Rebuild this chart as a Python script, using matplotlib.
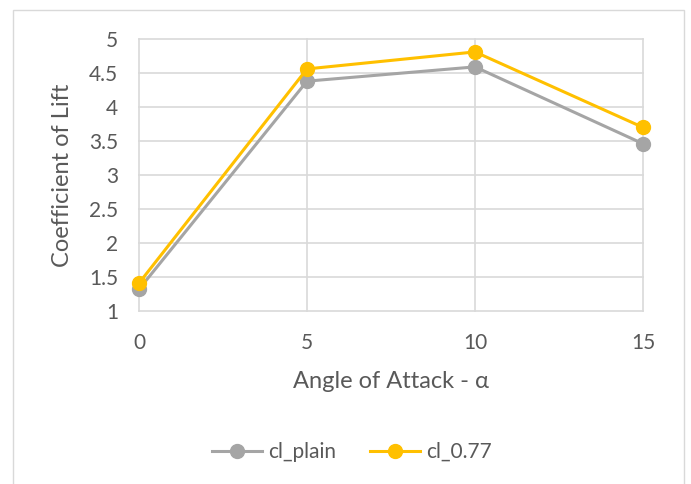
import matplotlib
matplotlib.use("Agg")
import matplotlib.pyplot as plt
from matplotlib.patches import Rectangle

angles = [0, 5, 10, 15]
cl_plain = [1.32, 4.38, 4.59, 3.46]
cl_077 = [1.41, 4.56, 4.81, 3.70]
series_names = ["cl_plain", "cl_0.77"]
yticks = [1, 1.5, 2, 2.5, 3, 3.5, 4, 4.5, 5]
ytick_labels = ["1", "1.5", "2", "2.5", "3", "3.5", "4", "4.5", "5"]

plt.rcParams['font.family'] = ['Lato', 'DejaVu Sans']
txt = '#595959'
W, H = 691, 484
fig = plt.figure(figsize=(W/100, H/100), dpi=100)
fig.add_artist(Rectangle((13/W, -0.01), (684-13)/W, (H-10)/H + 0.01, transform=fig.transFigure,
                         fill=False, edgecolor='#D9D9D9', linewidth=1))

ax = fig.add_axes([139/W, 1-311/H, (643-139)/W, (311-39)/H])
ax.plot(angles, cl_plain, color='#A5A5A5', lw=2.2, marker='o', ms=10, label=series_names[0],
        solid_joinstyle='round', zorder=3, clip_on=False)
ax.plot(angles, cl_077, color='#FFC000', lw=2.2, marker='o', ms=10, label=series_names[1],
        solid_joinstyle='round', zorder=4, clip_on=False)
ax.set_xlim(0, 15)
ax.set_ylim(1, 5)
ax.set_xticks(angles)
ax.set_xticklabels([str(a) for a in angles])
ax.set_yticks(yticks)
ax.set_yticklabels(ytick_labels)
for s in ax.spines.values():
    s.set_visible(False)
ax.grid(True, color='#D9D9D9', lw=1.2, zorder=0)
ax.set_axisbelow(True)
ax.tick_params(length=0, labelsize=15, colors=txt)
ax.tick_params(axis='x', pad=16)
ax.tick_params(axis='y', pad=15)
for c in ax.get_xgridlines() + ax.get_ygridlines():
    c.set_clip_on(False)
ax.set_xlabel("Angle of Attack - α", fontsize=17, color=txt, va='center')
ax.xaxis.set_label_coords(0.5, (311-381)/272)
ax.set_ylabel("Coefficient of Lift", fontsize=17, color=txt, va='center')
ax.yaxis.set_label_coords((63-139)/504, 0.5)
fig.legend(loc='center', bbox_to_anchor=(352/W, 1-452/H), ncol=2, frameon=False,
           fontsize=15, labelcolor=txt, handlelength=2.4, columnspacing=1.6, handletextpad=0.3)
fig.savefig("out.png", dpi=100)
